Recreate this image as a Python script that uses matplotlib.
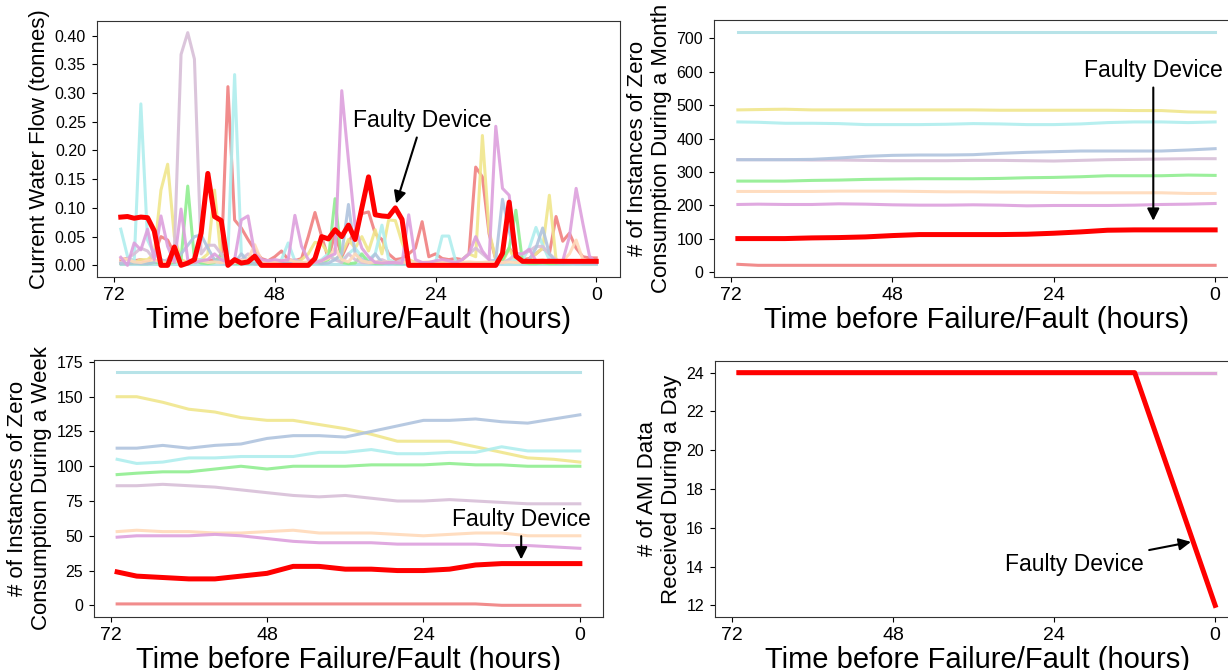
import matplotlib
matplotlib.use("Agg")
import matplotlib.pyplot as plt
from matplotlib.ticker import FormatStrFormatter

plt.rcParams['font.family'] = ['Liberation Sans', 'DejaVu Sans']

# ---------------- data ----------------
hours = list(range(71, -1, -1))          # 72 hourly points, 71 h ... 0 h
coarse_hours = [71, 68, 64, 60, 56, 52, 48, 44, 40, 36, 32, 28, 24, 20, 16, 12, 8, 4, 0]
day_hours = [71, 12, 0]

series_colors = ['#B0E0E6', '#F08080', '#F0E68C', '#AFEEEE', '#90EE90',
                 '#D8BFD8', '#B0C4DE', '#FFDAB9', '#DDA0DD']
faulty_color = '#FF0000'

# Current water flow (tonnes), hourly, h=71 ... 0
flow_powderblue = [0.002] * 72
flow_coral = [0.010, 0.012, 0.008, 0.010, 0.005, 0.020, 0.050, 0.044, 0.020, 0.008, 0.005, 0.005,
              0.010, 0.008, 0.010, 0.005, 0.311, 0.079, 0.065, 0.045, 0.027, 0.012, 0.008, 0.015,
              0.025, 0.010, 0.008, 0.012, 0.050, 0.092, 0.050, 0.012, 0.056, 0.015, 0.040, 0.060,
              0.090, 0.093, 0.055, 0.045, 0.020, 0.010, 0.012, 0.020, 0.030, 0.076, 0.015, 0.020,
              0.012, 0.010, 0.012, 0.010, 0.020, 0.171, 0.154, 0.055, 0.010, 0.008, 0.030, 0.015,
              0.010, 0.012, 0.020, 0.030, 0.020, 0.085, 0.042, 0.056, 0.030, 0.015, 0.013, 0.013]
flow_khaki = [0.005, 0.003, 0.005, 0.010, 0.010, 0.020, 0.131, 0.176, 0.050, 0.010, 0.005, 0.005,
              0.010, 0.020, 0.131, 0.010, 0.005, 0.005, 0.008, 0.010, 0.005, 0.005, 0.008, 0.005,
              0.004, 0.005, 0.005, 0.010, 0.020, 0.040, 0.038, 0.020, 0.010, 0.020, 0.045, 0.030,
              0.050, 0.025, 0.062, 0.020, 0.079, 0.078, 0.040, 0.010, 0.005, 0.005, 0.004, 0.004,
              0.005, 0.005, 0.005, 0.010, 0.020, 0.015, 0.226, 0.060, 0.010, 0.005, 0.030, 0.005,
              0.005, 0.010, 0.020, 0.030, 0.122, 0.010, 0.005, 0.005, 0.004, 0.004, 0.004, 0.004]
flow_turquoise = [0.063, 0.016, 0.005, 0.281, 0.044, 0.020, 0.010, 0.005, 0.003, 0.003, 0.005, 0.010,
                  0.010, 0.005, 0.005, 0.010, 0.020, 0.332, 0.020, 0.010, 0.008, 0.005, 0.005, 0.004,
                  0.010, 0.039, 0.008, 0.005, 0.004, 0.005, 0.010, 0.020, 0.010, 0.008, 0.020, 0.030,
                  0.015, 0.010, 0.020, 0.070, 0.010, 0.005, 0.004, 0.004, 0.005, 0.005, 0.004, 0.005,
                  0.051, 0.051, 0.008, 0.005, 0.004, 0.004, 0.005, 0.005, 0.005, 0.004, 0.010, 0.008,
                  0.010, 0.030, 0.066, 0.035, 0.010, 0.005, 0.004, 0.004, 0.005, 0.004, 0.004, 0.004]
flow_green = [0.003, 0.003, 0.004, 0.003, 0.003, 0.005, 0.004, 0.003, 0.005, 0.010, 0.138, 0.010,
              0.004, 0.003, 0.005, 0.020, 0.005, 0.003, 0.003, 0.004, 0.003, 0.003, 0.003, 0.004,
              0.003, 0.003, 0.004, 0.003, 0.003, 0.005, 0.004, 0.010, 0.116, 0.005, 0.003, 0.004,
              0.020, 0.005, 0.003, 0.003, 0.004, 0.003, 0.003, 0.003, 0.004, 0.003, 0.003, 0.003,
              0.003, 0.003, 0.004, 0.003, 0.003, 0.003, 0.004, 0.003, 0.003, 0.010, 0.030, 0.096,
              0.005, 0.003, 0.003, 0.004, 0.003, 0.003, 0.003, 0.003, 0.004, 0.003, 0.003, 0.003]
flow_thistle = [0.005, 0.012, 0.020, 0.030, 0.025, 0.010, 0.005, 0.010, 0.027, 0.367, 0.405, 0.359,
                0.020, 0.035, 0.035, 0.020, 0.005, 0.004, 0.010, 0.020, 0.010, 0.005, 0.008, 0.005,
                0.004, 0.005, 0.010, 0.005, 0.004, 0.005, 0.008, 0.015, 0.010, 0.005, 0.020, 0.010,
                0.005, 0.004, 0.005, 0.010, 0.005, 0.004, 0.010, 0.005, 0.004, 0.004, 0.005, 0.004,
                0.005, 0.005, 0.004, 0.010, 0.020, 0.030, 0.020, 0.010, 0.005, 0.004, 0.010, 0.020,
                0.020, 0.025, 0.033, 0.033, 0.020, 0.010, 0.005, 0.004, 0.004, 0.004, 0.004, 0.004]
flow_steelblue = [0.003, 0.003, 0.004, 0.003, 0.003, 0.005, 0.010, 0.005, 0.010, 0.020, 0.035, 0.050,
                  0.053, 0.030, 0.010, 0.005, 0.003, 0.004, 0.020, 0.005, 0.003, 0.003, 0.004, 0.003,
                  0.003, 0.004, 0.003, 0.003, 0.004, 0.005, 0.003, 0.004, 0.010, 0.020, 0.106, 0.020,
                  0.010, 0.005, 0.020, 0.005, 0.003, 0.004, 0.003, 0.003, 0.004, 0.003, 0.003, 0.003,
                  0.003, 0.004, 0.003, 0.003, 0.004, 0.003, 0.003, 0.005, 0.010, 0.115, 0.060, 0.020,
                  0.005, 0.010, 0.030, 0.065, 0.020, 0.005, 0.003, 0.004, 0.003, 0.003, 0.003, 0.003]
flow_peach = [0.012, 0.010, 0.006, 0.005, 0.008, 0.010, 0.006, 0.005, 0.008, 0.006, 0.005, 0.010,
              0.008, 0.005, 0.006, 0.005, 0.006, 0.005, 0.008, 0.010, 0.036, 0.008, 0.005, 0.006,
              0.008, 0.010, 0.006, 0.005, 0.006, 0.005, 0.008, 0.012, 0.030, 0.010, 0.006, 0.020,
              0.008, 0.005, 0.006, 0.005, 0.006, 0.005, 0.005, 0.006, 0.005, 0.005, 0.006, 0.005,
              0.005, 0.006, 0.005, 0.005, 0.006, 0.005, 0.005, 0.006, 0.005, 0.005, 0.006, 0.005,
              0.006, 0.005, 0.008, 0.010, 0.006, 0.005, 0.008, 0.020, 0.044, 0.010, 0.008, 0.008]
flow_plum = [0.014, 0.000, 0.039, 0.027, 0.063, 0.010, 0.086, 0.033, 0.005, 0.098, 0.010, 0.005,
             0.008, 0.010, 0.020, 0.010, 0.005, 0.010, 0.079, 0.086, 0.020, 0.010, 0.008, 0.010,
             0.008, 0.010, 0.087, 0.033, 0.010, 0.005, 0.008, 0.015, 0.020, 0.304, 0.183, 0.067,
             0.030, 0.015, 0.005, 0.004, 0.005, 0.005, 0.004, 0.088, 0.010, 0.005, 0.005, 0.008,
             0.010, 0.008, 0.005, 0.010, 0.020, 0.050, 0.025, 0.010, 0.242, 0.134, 0.122, 0.020,
             0.020, 0.028, 0.008, 0.005, 0.010, 0.005, 0.008, 0.050, 0.134, 0.073, 0.016, 0.004]
flow_faulty = [0.084, 0.085, 0.082, 0.084, 0.083, 0.060, 0.000, 0.000, 0.032, 0.000, 0.004, 0.010,
               0.056, 0.160, 0.085, 0.078, 0.000, 0.010, 0.004, 0.006, 0.016, 0.000, 0.000, 0.000,
               0.000, 0.000, 0.000, 0.000, 0.000, 0.012, 0.050, 0.046, 0.062, 0.050, 0.070, 0.045,
               0.100, 0.154, 0.088, 0.086, 0.085, 0.100, 0.080, 0.000, 0.000, 0.000, 0.000, 0.000,
               0.000, 0.000, 0.000, 0.000, 0.000, 0.000, 0.000, 0.000, 0.000, 0.021, 0.110, 0.016,
               0.007, 0.007, 0.007, 0.007, 0.007, 0.007, 0.007, 0.007, 0.007, 0.007, 0.007, 0.007]

# Zero-consumption instances during a month, at coarse_hours
month_powderblue = [720] * 19
month_coral = [24, 21, 21, 21, 21, 21, 21, 21, 21, 21, 21, 21, 21, 21, 21, 21, 21, 21, 21]
month_khaki = [486, 487, 488, 486, 486, 486, 486, 486, 486, 486, 485, 485, 485, 485, 485, 484, 484, 480, 479]
month_turquoise = [450, 449, 446, 446, 445, 442, 442, 442, 443, 445, 444, 442, 442, 444, 448, 450, 450, 448, 450]
month_green = [273, 273, 273, 275, 276, 278, 279, 280, 280, 280, 281, 283, 284, 286, 289, 289, 289, 291, 290]
month_thistle = [337, 337, 337, 336, 336, 335, 334, 334, 334, 335, 335, 334, 333, 335, 337, 338, 339, 340, 340]
month_steelblue = [337, 337, 337, 338, 342, 347, 350, 351, 351, 352, 356, 359, 361, 363, 363, 363, 363, 366, 370]
month_peach = [242, 242, 242, 242, 243, 243, 243, 242, 241, 241, 240, 240, 239, 238, 238, 238, 238, 236, 236]
month_plum = [203, 204, 203, 203, 205, 204, 202, 201, 201, 202, 201, 199, 200, 200, 200, 201, 203, 204, 206]
month_faulty = [101, 101, 101, 103, 104, 106, 110, 113, 113, 113, 113, 114, 117, 121, 126, 127, 127, 127, 127]

# Zero-consumption instances during a week, at coarse_hours
week_powderblue = [168] * 19
week_coral = [1, 1, 1, 1, 1, 1, 1, 1, 1, 1, 1, 1, 1, 1, 1, 0, 0, 0, 0]
week_khaki = [150, 150, 146, 141, 139, 135, 133, 133, 130, 127, 123, 118, 118, 118, 114, 110, 106, 105, 103]
week_turquoise = [105, 102, 103, 106, 106, 107, 107, 107, 110, 110, 112, 109, 109, 110, 110, 114, 111, 111, 111]
week_green = [94, 95, 96, 96, 98, 100, 98, 100, 100, 100, 101, 101, 101, 102, 101, 101, 100, 100, 100]
week_thistle = [86, 86, 87, 86, 85, 83, 81, 79, 78, 79, 77, 75, 75, 76, 75, 74, 73, 73, 73]
week_steelblue = [113, 113, 115, 113, 115, 116, 120, 122, 122, 121, 125, 129, 133, 133, 134, 132, 131, 134, 137]
week_peach = [53, 54, 53, 53, 52, 52, 53, 54, 52, 52, 52, 51, 50, 51, 52, 52, 50, 50, 50]
week_plum = [49, 50, 50, 50, 51, 50, 48, 46, 45, 45, 45, 44, 44, 44, 44, 43, 43, 42, 41]
week_faulty = [24, 21, 20, 19, 19, 21, 23, 28, 28, 26, 26, 25, 25, 26, 29, 30, 30, 30, 30]

# AMI data received during a day, at day_hours
day_normal = [24, 24, 24]
day_faulty = [24, 24, 12]

xticks = [72, 48, 24, 0]
xlabel = 'Time before Failure/Fault (hours)'
annot_text = 'Faulty Device'

# ---------------- drawing ----------------
W, H = 1228, 670
fig = plt.figure(figsize=(W / 100, H / 100), dpi=100)


def rect(l, t, r, b):
    return [l / W, 1 - b / H, (r - l) / W, (b - t) / H]


ax_tl = fig.add_axes(rect(97, 21, 620, 277))
ax_tr = fig.add_axes(rect(714, 20, 1239, 277))
ax_bl = fig.add_axes(rect(94, 360, 603, 617))
ax_br = fig.add_axes(rect(715, 361, 1239, 617))

BG_LW = 2.2
RED_LW = 3.6
XT_FS = 14
YT_FS = 11.5
XL_FS = 21
YL_FS = 16
AN_FS = 16.5

flow_bg = [flow_powderblue, flow_coral, flow_khaki, flow_turquoise, flow_green,
           flow_thistle, flow_steelblue, flow_peach, flow_plum]
month_bg = [month_powderblue, month_coral, month_khaki, month_turquoise, month_green,
            month_thistle, month_steelblue, month_peach, month_plum]
week_bg = [week_powderblue, week_coral, week_khaki, week_turquoise, week_green,
           week_thistle, week_steelblue, week_peach, week_plum]

for vals, c in zip(flow_bg, series_colors):
    ax_tl.plot(hours, vals, color=c, lw=BG_LW, alpha=0.9)
ax_tl.plot(hours, flow_faulty, color=faulty_color, lw=RED_LW)

for vals, c in zip(month_bg, series_colors):
    ax_tr.plot(coarse_hours, vals, color=c, lw=BG_LW, alpha=0.9)
ax_tr.plot(coarse_hours, month_faulty, color=faulty_color, lw=RED_LW)

for vals, c in zip(week_bg, series_colors):
    ax_bl.plot(coarse_hours, vals, color=c, lw=BG_LW, alpha=0.9)
ax_bl.plot(coarse_hours, week_faulty, color=faulty_color, lw=RED_LW)

for c in series_colors:
    ax_br.plot(day_hours, day_normal, color=c, lw=BG_LW, alpha=0.9)
ax_br.plot(day_hours, day_faulty, color=faulty_color, lw=RED_LW)

ylabels = ['Current Water Flow (tonnes)',
           '# of Instances of Zero\nConsumption During a Month',
           '# of Instances of Zero\nConsumption During a Week',
           '# of AMI Data\nReceived During a Day']
yticks_list = [[0, 0.05, 0.10, 0.15, 0.20, 0.25, 0.30, 0.35, 0.40],
               [0, 100, 200, 300, 400, 500, 600, 700],
               [0, 25, 50, 75, 100, 125, 150, 175],
               [12, 14, 16, 18, 20, 22, 24]]

for ax, yl, yt in zip([ax_tl, ax_tr, ax_bl, ax_br], ylabels, yticks_list):
    ax.invert_xaxis()
    ax.set_xticks(xticks)
    ax.set_yticks(yt)
    ax.tick_params(axis='x', labelsize=XT_FS)
    ax.tick_params(axis='y', labelsize=YT_FS, pad=4.5)
    ax.set_xlabel(xlabel, fontsize=XL_FS, labelpad=2)
    ax.set_ylabel(yl, fontsize=YL_FS, labelpad=3)
    for s in ax.spines.values():
        s.set_color('#333333')

ax_tl.yaxis.set_major_formatter(FormatStrFormatter('%.2f'))

arrow = dict(arrowstyle='-|>', color='black', lw=1.5, mutation_scale=18)
ax_tl.annotate(annot_text, xy=(30, 0.103), xytext=(26, 0.252), fontsize=AN_FS,
               ha='center', va='center', arrowprops=arrow)
ax_tr.annotate(annot_text, xy=(9.2, 146), xytext=(9.2, 604), fontsize=AN_FS,
               ha='center', va='center', arrowprops=arrow)
ax_bl.annotate(annot_text, xy=(9, 31), xytext=(9, 62), fontsize=AN_FS,
               ha='center', va='center', arrowprops=arrow)
ax_br.annotate(annot_text, xy=(3.2, 15.3), xytext=(21, 14.1), fontsize=AN_FS,
               ha='center', va='center', arrowprops=arrow)

fig.savefig('out.png', dpi=100)
